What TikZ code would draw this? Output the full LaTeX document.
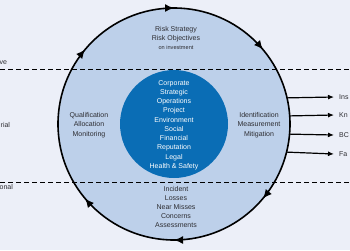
\documentclass[tikz,border=0pt]{standalone}
\usepackage{fontspec}
\setmainfont{Liberation Sans}
\usepackage{xcolor}
\usetikzlibrary{arrows.meta, positioning, calc, decorations.markings}
\definecolor{RiskBack}{RGB}{236, 239, 248}
\definecolor{RiskRing}{RGB}{189, 208, 234}
\definecolor{RiskCore}{RGB}{10, 109, 181}
\definecolor{RiskText}{RGB}{45, 45, 50}

\tikzset{
  ringtext/.style={align=center, text=RiskText, inner sep=0pt,
    font=\fontsize{7}{9.2}\selectfont},
  coretext/.style={align=center, text=white, inner sep=0pt,
    font=\fontsize{7}{9.25}\selectfont},
  sidetext/.style={text=RiskText, inner sep=0pt, anchor=west,
    font=\fontsize{7}{9}\selectfont},
  levelline/.style={black, line width=0.9pt, dash pattern=on 5pt off 3pt},
  outflow/.style={line width=1.2pt, -{Latex[length=6pt, width=5pt]}},
  ringarrow/.style={decoration={markings,
      mark=at position 0.111 with {\arrowreversed{Latex[length=9pt, width=8pt]}},
      mark=at position 0.25 with {\arrowreversed{Latex[length=9pt, width=8pt]}},
      mark=at position 0.389 with {\arrowreversed{Latex[length=9pt, width=8pt]}},
      mark=at position 0.611 with {\arrowreversed{Latex[length=9pt, width=8pt]}},
      mark=at position 0.75 with {\arrowreversed{Latex[length=9pt, width=8pt]}},
      mark=at position 0.889 with {\arrowreversed{Latex[length=9pt, width=8pt]}}},
    postaction={decorate}}
}

\begin{document}
\begin{tikzpicture}[x=1pt, y=-1pt]
  \fill[RiskBack] (0,0) rectangle (350,250);
  \useasboundingbox (0,0) rectangle (350,250);

  % outer ring
  \coordinate (centre) at (174,124);
  \draw[fill=RiskRing, line width=1.6pt, ringarrow] (centre) circle[radius=116pt];
  \node[circle, minimum size=232pt, inner sep=0pt] (ring) at (centre) {};

  % level lines
  \draw[levelline] (0,69) -- (350,69);
  \draw[levelline] (0,182) -- (350,182);

  % core
  \node[circle, fill=RiskCore, minimum size=108pt, inner sep=0pt] (core) at (centre) {};
  \node[coretext] (areas) at (174,125) {Corporate\\Strategic\\Operations\\Project\\Environment\\Social\\Financial\\Reputation\\Legal\\Health \& Safety};

  % ring texts
  \node[ringtext] (strategy) at (176,34) {Risk Strategy\\Risk Objectives};
  \node[ringtext, font=\fontsize{5.6}{7}\selectfont, below=3pt of strategy] (invest) {on investment};
  \node[ringtext] (qualify) at (89,125) {Qualification\\Allocation\\Monitoring};
  \node[ringtext] (identify) at (259,125) {Identification\\Measurement\\Mitigation};
  \node[ringtext] (incident) at (176,207) {Incident\\Losses\\Near Misses\\Concerns\\Assessments};

  % cut-off side labels
  \node[sidetext] (exec) at (-0.5,63) {ve};
  \node[sidetext] (manage) at (0.5,124.5) {rial};
  \node[sidetext] (oper) at (-0.5,187) {onal};

  \node[sidetext] (ins) at (339,97) {Ins};
  \node[sidetext] (kn) at (339,115) {Kn};
  \node[sidetext] (bc) at (339,135) {BC};
  \node[sidetext] (fa) at (339,154) {Fa};

  % outputs
  \draw[outflow] (ring.13.5) -- ($(ins.west)+(-5pt,0)$);
  \draw[outflow] (ring.4.45) -- ($(kn.west)+(-5pt,0)$);
  \draw[outflow] (ring.-5.44) -- ($(bc.west)+(-5pt,0)$);
  \draw[outflow] (ring.-14.98) -- ($(fa.west)+(-5pt,0)$);
\end{tikzpicture}
\end{document}
